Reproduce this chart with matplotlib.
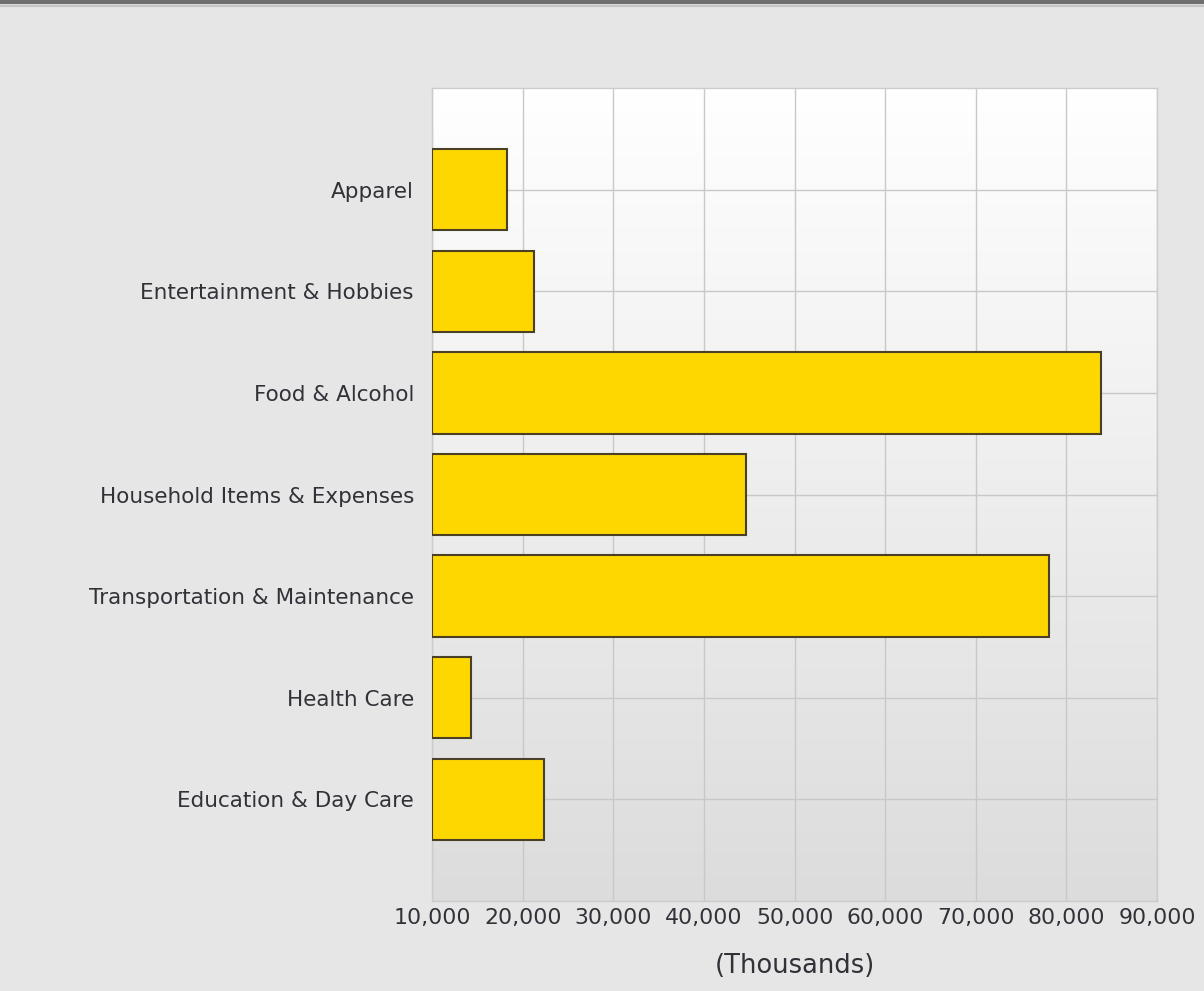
import numpy as np
import matplotlib
matplotlib.use("Agg")
import matplotlib.pyplot as plt
from matplotlib.colors import LinearSegmentedColormap
from matplotlib.ticker import FuncFormatter

categories = ["Apparel", "Entertainment & Hobbies", "Food & Alcohol",
              "Household Items & Expenses", "Transportation & Maintenance",
              "Health Care", "Education & Day Care"]
values = [18300, 21300, 83800, 44700, 78100, 14300, 22400]
x_ticks = [10000, 20000, 30000, 40000, 50000, 60000, 70000, 80000, 90000]
x_label = "(Thousands)"

x_min, x_max = x_ticks[0], x_ticks[-1]

fig = plt.figure(figsize=(12.04, 9.91), dpi=100, facecolor="#e6e6e6")
ax = fig.add_axes([0.3588, 0.0908, 0.6022, 0.8204])

# gradient background of the plot area
grad = LinearSegmentedColormap.from_list("bg", ["#ffffff", "#dcdcdc"])
ax.imshow(np.linspace(0, 1, 256).reshape(-1, 1), cmap=grad, aspect="auto",
          extent=[x_min, x_max, len(categories), -1], zorder=0)

y = np.arange(len(categories))
widths = [v - x_min for v in values]
ax.barh(y, widths, left=x_min, height=0.8, color="#ffd700",
        edgecolor="#4a4025", linewidth=1.5, zorder=3)

ax.set_xlim(x_min, x_max)
ax.set_ylim(len(categories), -1)
ax.set_xticks(x_ticks)
ax.xaxis.set_major_formatter(FuncFormatter(lambda v, p: f"{int(v):,}"))
ax.set_yticks(y)
ax.set_yticklabels(categories)

ax.grid(True, color="#c8c8c8", linewidth=1.0, zorder=1)
ax.set_axisbelow(True)
for s in ax.spines.values():
    s.set_color("#cccccc")
    s.set_linewidth(1.0)

ax.tick_params(axis="both", length=0, colors="#333038")
ax.tick_params(axis="y", labelsize=15.5, pad=13)
ax.tick_params(axis="x", labelsize=15.8, pad=5)
ax.set_xlabel(x_label, fontsize=18.5, color="#333038", labelpad=18)

# dark rule across the top of the image
fig.add_artist(plt.Line2D([0, 1], [0.998, 0.998], transform=fig.transFigure,
                          color="#6e6e6e", linewidth=3))
fig.add_artist(plt.Line2D([0, 1], [0.994, 0.994], transform=fig.transFigure,
                          color="#c4c4c4", linewidth=1.5))

fig.savefig("out.png", dpi=100, facecolor=fig.get_facecolor())
